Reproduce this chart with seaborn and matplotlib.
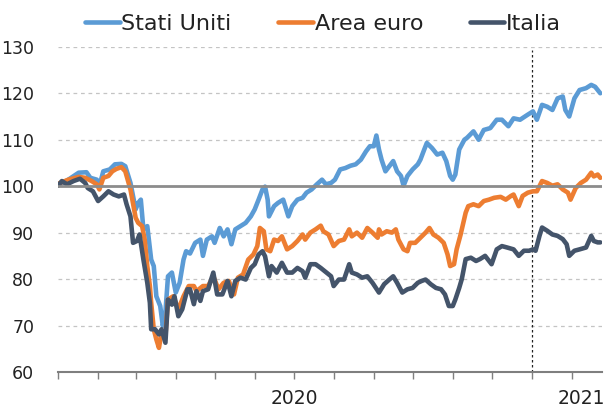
import matplotlib
matplotlib.use("Agg")
import matplotlib.pyplot as plt
import matplotlib.dates as mdates
import matplotlib.transforms as mtransforms
import seaborn as sns
import pandas as pd

# days since 1 Jan 2020 and index level (start = 100)
us_day = [0, 8, 16, 22, 25, 30, 32, 35, 40, 44, 49, 52, 56, 60, 62, 64, 66, 69, 72, 74,
          76, 79, 81, 83, 85, 88, 91, 94, 97, 99, 102, 106, 110, 112, 115, 119, 121, 125,
          128, 131, 134, 137, 141, 145, 149, 152, 155, 158, 160, 162, 163, 167, 170, 174,
          178, 181, 185, 189, 192, 196, 200, 204, 207, 211, 214, 218, 222, 226, 230, 234,
          238, 241, 244, 246, 248, 250, 253, 256, 259, 262, 265, 267, 270, 274, 278, 280,
          283, 285, 289, 293, 297, 300, 303, 305, 307, 310, 314, 316, 321, 325, 329, 334,
          339, 343, 348, 352, 357, 363, 367, 370, 374, 378, 382, 386, 390, 392, 395, 399,
          403, 408, 412, 415, 419]
us_val = [100.2, 101.4, 102.9, 103.0, 101.8, 101.4, 100.0, 103.2, 103.6, 104.7, 104.8, 104.3,
          100.7, 95.0, 96.4, 97.1, 90.7, 91.4, 84.2, 82.8, 76.3, 74.2, 69.9, 72.8, 80.6, 81.4,
          77.1, 79.2, 84.2, 86.0, 85.5, 87.8, 88.5, 85.0, 88.5, 89.2, 87.8, 91.0, 89.2, 90.7,
          87.5, 90.7, 91.4, 92.1, 93.5, 95.0, 97.1, 99.3, 99.9, 97.1, 93.5, 95.7, 96.4, 97.1,
          93.5, 95.7, 97.1, 97.5, 98.6, 99.3, 100.4, 101.4, 100.4, 100.7, 101.4, 103.6, 103.9,
          104.4, 104.7, 105.7, 107.5, 108.6, 108.6, 110.9, 107.9, 105.7, 103.2, 104.3, 105.4,
          103.2, 102.2, 100.1, 102.2, 103.6, 104.7, 105.7, 107.9, 109.3, 108.2, 106.8, 107.2,
          105.4, 102.2, 101.4, 102.5, 107.9, 110.0, 110.4, 111.8, 110.0, 112.1, 112.5, 114.3,
          114.3, 112.9, 114.6, 114.3, 115.4, 116.1, 114.3, 117.5, 117.1, 116.4, 118.9, 119.3,
          116.4, 115.0, 118.9, 120.7, 121.1, 121.8, 121.4, 120.0]

ea_day = [0, 8, 16, 21, 26, 30, 32, 35, 39, 42, 45, 49, 52, 56, 60, 62, 65, 67, 69, 71, 72,
          74, 76, 78, 80, 83, 85, 89, 93, 97, 101, 105, 107, 112, 116, 120, 124, 128, 132,
          136, 139, 143, 147, 151, 154, 156, 159, 161, 164, 167, 170, 173, 177, 181, 185,
          189, 191, 195, 199, 203, 205, 209, 213, 217, 221, 225, 227, 231, 235, 239, 243,
          247, 248, 250, 254, 258, 261, 263, 267, 270, 272, 276, 280, 284, 287, 290, 294,
          298, 301, 303, 306, 308, 311, 315, 317, 321, 325, 329, 333, 337, 342, 346, 350,
          352, 356, 359, 363, 367, 370, 374, 378, 382, 386, 390, 394, 396, 400, 404, 408,
          412, 414, 417, 419]
ea_val = [100.5, 101.4, 102.0, 101.8, 101.1, 100.4, 99.3, 101.8, 102.2, 103.2, 103.7, 104.1,
          103.2, 99.3, 93.2, 92.1, 91.4, 88.5, 82.8, 78.5, 74.9, 69.2, 67.0, 65.2, 68.5, 67.7,
          75.6, 76.3, 73.5, 76.3, 78.5, 78.5, 77.4, 78.5, 78.5, 80.6, 77.8, 79.2, 79.6, 76.7,
          80.3, 81.0, 84.2, 85.3, 87.1, 91.0, 90.3, 86.4, 86.0, 88.5, 88.2, 89.2, 86.4, 87.1,
          88.2, 89.6, 88.5, 90.0, 90.7, 91.5, 90.3, 89.6, 87.1, 88.2, 88.5, 90.7, 89.2, 90.0,
          88.9, 91.0, 90.0, 88.9, 90.7, 89.6, 90.3, 90.0, 90.7, 88.5, 86.4, 86.0, 87.8, 87.8,
          88.9, 90.0, 91.0, 89.6, 88.9, 87.8, 85.3, 82.8, 83.2, 86.4, 89.5, 94.3, 95.7, 96.1,
          95.7, 96.8, 97.1, 97.5, 97.7, 97.1, 97.9, 98.2, 95.7, 97.9, 98.6, 98.9, 98.9, 101.1,
          100.7, 100.1, 100.4, 99.3, 98.6, 97.1, 99.6, 100.7, 101.4, 102.9, 102.1, 102.5, 101.8]

it_day = [0, 3, 7, 12, 17, 21, 23, 27, 31, 35, 39, 43, 47, 51, 53, 56, 58, 61, 63, 66, 69,
          71, 72, 75, 78, 80, 83, 85, 88, 90, 93, 96, 100, 102, 105, 107, 110, 112, 116, 120,
          123, 127, 131, 134, 137, 141, 145, 149, 152, 155, 158, 160, 163, 165, 169, 173,
          177, 181, 185, 189, 191, 195, 199, 203, 207, 211, 213, 217, 221, 225, 227, 231,
          235, 239, 243, 248, 252, 256, 259, 262, 266, 270, 274, 278, 281, 284, 288, 292,
          296, 299, 302, 305, 307, 310, 312, 315, 319, 323, 326, 330, 335, 339, 343, 347,
          352, 356, 360, 364, 367, 369, 372, 374, 378, 382, 386, 390, 393, 395, 399, 403,
          408, 412, 414, 417, 419]
it_val = [100.1, 101.1, 100.4, 101.1, 101.6, 100.7, 99.6, 98.9, 96.8, 97.8, 98.9, 98.2, 97.8,
          98.2, 96.1, 93.5, 87.8, 88.2, 89.6, 84.2, 79.2, 74.9, 69.2, 69.2, 68.1, 69.2, 66.3,
          75.6, 74.5, 76.3, 72.0, 73.5, 77.8, 77.8, 74.6, 77.4, 75.3, 77.4, 77.8, 81.4, 76.7,
          76.7, 79.6, 76.3, 79.6, 80.3, 79.9, 82.4, 83.2, 85.3, 86.0, 84.9, 80.6, 82.8, 81.4,
          83.5, 81.4, 81.4, 82.4, 81.7, 80.3, 83.2, 83.2, 82.4, 81.5, 80.6, 78.5, 79.9, 79.9,
          83.2, 81.4, 81.0, 80.3, 80.6, 79.2, 77.1, 78.9, 79.9, 80.6, 79.2, 77.1, 77.8, 78.1,
          79.2, 79.6, 79.9, 78.9, 78.1, 77.8, 76.7, 74.2, 74.2, 75.6, 78.1, 80.0, 84.3, 84.6,
          83.9, 84.3, 85.0, 83.2, 86.4, 87.1, 86.8, 86.4, 85.0, 86.1, 86.1, 86.4, 86.1, 89.3,
          91.1, 90.4, 89.6, 89.3, 88.6, 87.5, 85.0, 86.1, 86.4, 86.8, 89.3, 88.2, 87.9, 87.9]

series = ["Stati Uniti", "Area euro", "Italia"]
colors = ["#5B9BD5", "#ED7D31", "#44546A"]

start = pd.Timestamp("2020-01-01")
frames = []
for name, days, vals in zip(series, [us_day, ea_day, it_day], [us_val, ea_val, it_val]):
    frames.append(pd.DataFrame({
        "date": start + pd.to_timedelta(days, unit="D"),
        "value": vals,
        "serie": name,
    }))
df = pd.concat(frames, ignore_index=True)

sns.set_style("white")
plt.rcParams["font.family"] = ["DejaVu Sans"]

fig = plt.figure(figsize=(6.04, 4.07), dpi=100)
ax = fig.add_axes([0.096, 0.086, 0.9, 0.799])

# grid and reference lines
for y in [70, 80, 90, 110, 120, 130]:
    ax.axhline(y, color="#C4C4C4", lw=0.9, ls=(0, (3, 3)), zorder=0)
ax.plot([pd.Timestamp("2021-01-01")] * 2, [60, 129.3], color="#222222", lw=0.9,
        ls=(0, (2, 2)), zorder=1)

sns.lineplot(data=df, x="date", y="value", hue="serie", hue_order=series,
             palette=colors, linewidth=3.3, estimator=None, sort=False, ax=ax, zorder=3)

# the 100 line sits on top of the series
ax.axhline(100, color="#8C8C8C", lw=2, zorder=5)

ax.set_xlim(start, start + pd.Timedelta(days=420))
ax.set_ylim(60, 130)
ax.set_yticks([60, 70, 80, 90, 100, 110, 120, 130])
ax.tick_params(axis="y", left=False, length=0, labelsize=12.5, pad=17, colors="#222222")
ax.set_xlabel("")
ax.set_ylabel("")

ax.xaxis.set_major_locator(mdates.MonthLocator())
ax.xaxis.set_major_formatter(plt.NullFormatter())
ax.tick_params(axis="x", bottom=True, length=5, width=1, color="#7F7F7F", direction="out")

for side in ["top", "right", "left"]:
    ax.spines[side].set_visible(False)
ax.spines["bottom"].set_color("#7F7F7F")
ax.spines["bottom"].set_linewidth(1.5)
ax.spines["bottom"].set_zorder(6)

trans = mtransforms.blended_transform_factory(ax.transData, ax.transAxes)
ax.text(pd.Timestamp("2020-07-02"), -0.08, "2020", transform=trans, ha="center",
        va="center", fontsize=13.5, color="#222222")
ax.text(pd.Timestamp("2021-02-08"), -0.08, "2021", transform=trans, ha="center",
        va="center", fontsize=13.5, color="#222222", clip_on=False)

handles, labels = ax.get_legend_handles_labels()
ax.legend_.remove()
for h in handles:
    h.set_linewidth(3.3)
fig.legend(handles, labels, loc="center", bbox_to_anchor=(0.535, 0.942), ncol=3,
           frameon=False, fontsize=16, handlelength=1.55, handletextpad=0.08,
           columnspacing=2.1, labelcolor="#222222")

fig.savefig("out.png", dpi=100)
